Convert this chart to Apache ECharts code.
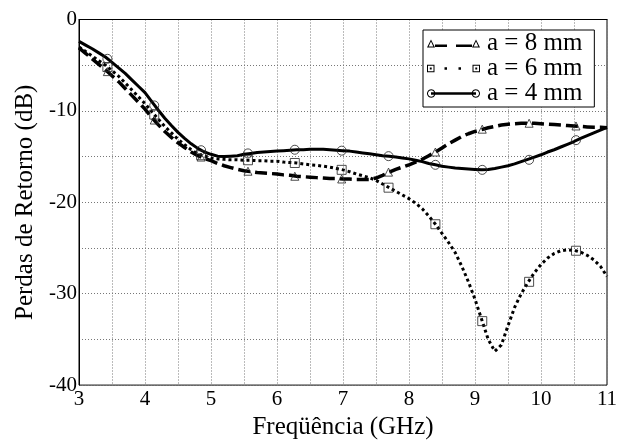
<!DOCTYPE html>
<html><head><meta charset="utf-8">
<script src="https://cdn.jsdelivr.net/npm/echarts@6/dist/echarts.min.js"></script>
<style>html,body{margin:0;padding:0;background:#fff}#c{width:624px;height:445px}</style>
</head><body><div id="c"></div>
<script>
// Frequency samples (GHz)
const freq = [3.0,3.1,3.2,3.3,3.4,3.5,3.6,3.7,3.8,3.9,
  4.0,4.1,4.2,4.3,4.4,4.5,4.6,4.7,4.8,4.9,
  5.0,5.1,5.2,5.3,5.4,5.5,5.6,5.7,5.8,5.9,
  6.0,6.1,6.2,6.3,6.4,6.5,6.6,6.7,6.8,6.9,
  7.0,7.1,7.2,7.3,7.4,7.5,7.6,7.7,7.8,7.9,
  8.0,8.1,8.2,8.3,8.4,8.5,8.6,8.7,8.8,8.9,
  9.0,9.1,9.2,9.3,9.4,9.5,9.6,9.7,9.8,9.9,
  10.0,10.1,10.2,10.3,10.4,10.5,10.6,10.7,10.8,10.9,11.0];
// Return loss (dB), a = 8 mm
const a8 = [-3.1,-3.7,-4.3,-4.9,-5.5,-6.15,-6.8,-7.55,-8.3,-9.05,
  -9.8,-10.7,-11.5,-12.25,-12.9,-13.5,-14.0,-14.5,-14.9,-15.2,
  -15.45,-15.75,-16.0,-16.2,-16.4,-16.55,-16.65,-16.75,-16.8,-16.85,
  -16.9,-17.0,-17.05,-17.15,-17.2,-17.25,-17.3,-17.35,-17.4,-17.4,
  -17.45,-17.45,-17.5,-17.5,-17.5,-17.35,-17.05,-16.7,-16.4,-16.15,
  -15.9,-15.6,-15.3,-14.9,-14.5,-14.05,-13.6,-13.2,-12.8,-12.5,
  -12.25,-12.05,-11.85,-11.7,-11.55,-11.45,-11.4,-11.35,-11.35,-11.35,
  -11.4,-11.45,-11.5,-11.55,-11.6,-11.65,-11.7,-11.75,-11.8,-11.8,-11.85];
// a = 6 mm
const a6 = [-3.0,-3.5,-4.0,-4.5,-5.0,-5.6,-6.2,-6.95,-7.7,-8.45,
  -9.2,-10.05,-10.9,-11.7,-12.4,-13.1,-13.7,-14.25,-14.7,-14.95,
  -15.15,-15.25,-15.3,-15.35,-15.35,-15.4,-15.4,-15.45,-15.45,-15.5,
  -15.5,-15.6,-15.65,-15.7,-15.8,-15.9,-15.95,-16.05,-16.15,-16.3,
  -16.45,-16.65,-16.9,-17.1,-17.3,-17.6,-18.0,-18.4,-18.8,-19.2,
  -19.6,-20.1,-20.7,-21.5,-22.4,-23.4,-24.4,-25.5,-27.0,-28.7,
  -30.6,-32.8,-35.0,-36.3,-35.6,-33.5,-31.5,-30.0,-28.8,-27.7,
  -26.8,-26.1,-25.6,-25.3,-25.2,-25.25,-25.45,-25.8,-26.3,-27.0,-28.1];
// a = 4 mm
const a4 = [-2.4,-2.8,-3.2,-3.65,-4.1,-4.7,-5.3,-5.9,-6.6,-7.3,
  -8.0,-8.95,-9.9,-10.8,-11.6,-12.35,-13.0,-13.6,-14.1,-14.5,
  -14.75,-14.95,-15.0,-14.95,-14.9,-14.75,-14.65,-14.55,-14.5,-14.45,
  -14.4,-14.35,-14.3,-14.25,-14.25,-14.2,-14.2,-14.2,-14.25,-14.3,
  -14.35,-14.4,-14.5,-14.6,-14.7,-14.8,-14.9,-14.95,-15.05,-15.15,
  -15.25,-15.4,-15.55,-15.75,-15.9,-16.05,-16.15,-16.25,-16.3,-16.35,
  -16.4,-16.45,-16.4,-16.3,-16.15,-16.0,-15.8,-15.55,-15.3,-15.05,
  -14.8,-14.5,-14.25,-13.95,-13.65,-13.35,-13.0,-12.7,-12.4,-12.1,-11.8];
// Marker positions
const markFreq = [3.43,4.14,4.85,5.56,6.27,6.98,7.69,8.40,9.11,9.82,10.53];
const a8Marks = [-5.7,-11.0,-15.05,-16.6,-17.15,-17.45,-16.7,-14.5,-12.0,-11.35,-11.65];
const a6Marks = [-5.2,-10.4,-14.85,-15.4,-15.7,-16.45,-18.4,-22.4,-33.0,-28.7,-25.3];
const a4Marks = [-4.3,-9.4,-14.3,-14.65,-14.25,-14.35,-14.95,-15.9,-16.45,-15.35,-13.2];
const names = ['a = 8 mm','a = 6 mm','a = 4 mm'];
const xTicks = [3,4,5,6,7,8,9,10,11];
const yTicks = [0,-10,-20,-30,-40];

const FONT = "'Liberation Serif','Times New Roman',serif";
const pair = (xs, ys) => xs.map((x, i) => [x, ys[i]]);
const hollow = {color:'rgba(255,255,255,0)', borderColor:'#222', borderWidth:1};
const dotted = {show:true, lineStyle:{color:'#777', type:[1,2], width:1}};

// Legend icon geometry (symbol at both ends of a line sample, like the original legend)
const poly = pts => 'M' + pts.map(p => p[0].toFixed(2) + ' ' + p[1].toFixed(2)).join(' L') + ' Z ';
const rect = (x0, y0, x1, y1) => poly([[x0,y0],[x1,y0],[x1,y1],[x0,y1]]);
const triRing = (cx) => poly([[cx-4,8.5],[cx,0.5],[cx+4,8.5]]) + poly([[cx+2.3,7.5],[cx,2.6],[cx-2.3,7.5]]);
const sqRing = (x0) => rect(x0,1,x0+7.5,8.5) + poly([[x0+1,7.5],[x0+6.5,7.5],[x0+6.5,2],[x0+1,2]]) + rect(x0+2.8,3.8,x0+4.7,5.7);
const circ = (cx, cy, r, rev) => { const p = []; for (let k = 0; k < 24; k++) { const t = (rev ? -1 : 1) * k * Math.PI / 12; p.push([cx + r*Math.cos(t), cy + r*Math.sin(t)]); } return poly(p); };
const cRing = (cx) => circ(cx, 4.5, 4.2, false) + circ(cx, 4.5, 3.2, true);
const icon8 = 'path://' + triRing(4) + triRing(49) + rect(8,5.5,20,8) + rect(29,5.5,45,8);
const icon6 = 'path://' + sqRing(0) + sqRing(45.5) + rect(17.5,3.6,20,6.1) + rect(31.5,3.6,34,6.1);
const icon4 = 'path://' + cRing(4.2) + cRing(48.8) + rect(4,3.3,49,5.7);
const legIcon = {color:'#000', borderColor:'transparent', borderWidth:0};

const chart = echarts.init(document.getElementById('c'), null, {renderer:'canvas'});
chart.setOption({
  animation:false,
  backgroundColor:'#fff',
  grid:{left:79, right:17, top:19.5, bottom:52.3, show:true, borderColor:'#000', borderWidth:1, backgroundColor:'transparent'},
  xAxis:{type:'value', min:3, max:11, interval:1,
    name:'Freqüência (GHz)', nameLocation:'middle', nameGap:22,
    nameTextStyle:{fontFamily:FONT, fontSize:25, color:'#000'},
    axisLine:{show:true, lineStyle:{color:'#000', width:1}},
    axisTick:{show:false},
    axisLabel:{fontFamily:FONT, fontSize:21, color:'#000', margin:4,
      formatter:v => xTicks.includes(v) ? String(v) : ''},
    splitLine:dotted, minorTick:{show:false, splitNumber:2}, minorSplitLine:dotted},
  yAxis:{type:'value', min:-40, max:0, interval:10,
    name:'Perdas de Retorno (dB)', nameLocation:'middle', nameGap:40,
    nameTextStyle:{fontFamily:FONT, fontSize:25, color:'#000'},
    axisLine:{show:true, lineStyle:{color:'#000', width:1}},
    axisTick:{show:false},
    axisLabel:{fontFamily:FONT, fontSize:21, color:'#000', margin:2,
      formatter:v => yTicks.includes(v) ? String(v) : ''},
    splitLine:dotted, minorTick:{show:false, splitNumber:2}, minorSplitLine:dotted},
  legend:{orient:'vertical', left:423, top:30, symbolKeepAspect:true,
    data:[{name:names[0], icon:icon8, itemStyle:legIcon},
          {name:names[1], icon:icon6, itemStyle:legIcon},
          {name:names[2], icon:icon4, itemStyle:legIcon}],
    backgroundColor:'#fff', borderColor:'#000', borderWidth:1,
    padding:[1,12,1,4], itemGap:0, itemWidth:53, itemHeight:9,
    textStyle:{fontFamily:FONT, fontSize:25, color:'#000', lineHeight:25, padding:[0,0,0,2]}},
  series:[
    {name:names[0], type:'line', data:pair(freq,a8), symbol:'triangle', symbolSize:8, showSymbol:false,
     lineStyle:{color:'#000', width:3.5, type:[12,5]}, itemStyle:hollow, z:2},
    {name:names[1], type:'line', data:pair(freq,a6), symbol:'rect', symbolSize:8, showSymbol:false,
     lineStyle:{color:'#000', width:3, type:[3,3]}, itemStyle:hollow, z:2},
    {name:names[2], type:'line', data:pair(freq,a4), symbol:'circle', symbolSize:8, showSymbol:false,
     lineStyle:{color:'#000', width:3}, itemStyle:hollow, z:2},
    {type:'scatter', data:pair(markFreq,a8Marks), symbol:'triangle', symbolSize:8, itemStyle:hollow, z:3},
    {type:'scatter', data:pair(markFreq,a6Marks), symbol:'rect', symbolSize:9, itemStyle:hollow, z:3},
    {type:'scatter', data:pair(markFreq,a4Marks), symbol:'circle', symbolSize:9, itemStyle:hollow, z:3}
  ]
});
</script></body></html>
